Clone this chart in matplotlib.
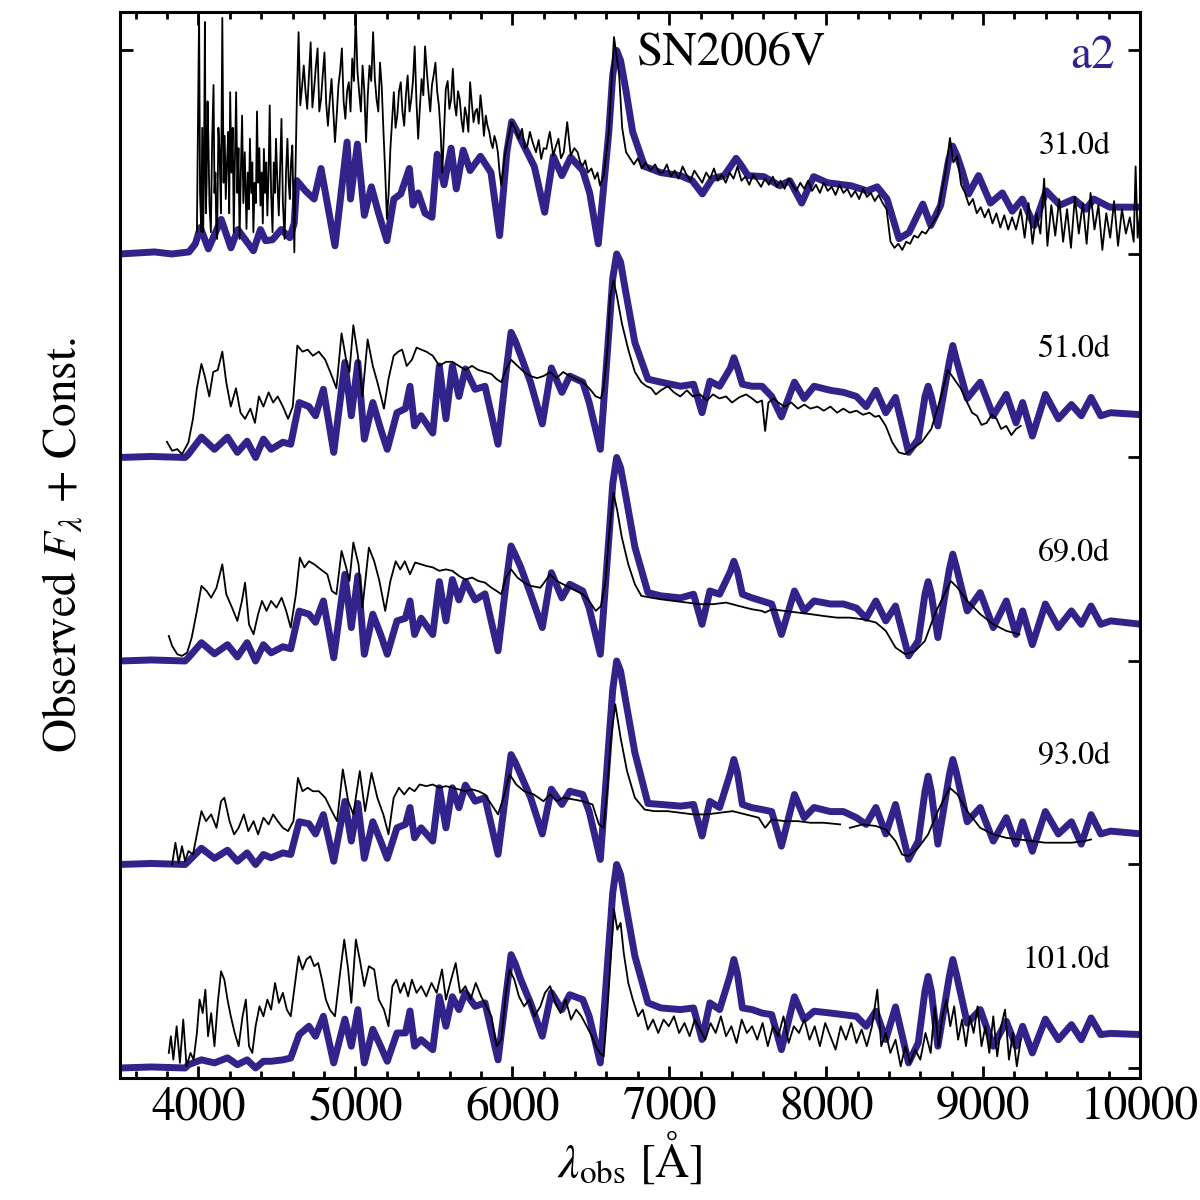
import numpy as np
import matplotlib
matplotlib.use("Agg")
import matplotlib.pyplot as plt
from matplotlib.ticker import MultipleLocator

# ---- data (wavelength in Angstrom, flux in units of the offset step) ----
epochs = ["31.0d", "51.0d", "69.0d", "93.0d", "101.0d"]
offsets = [4, 3, 2, 1, 0]

# model a2 at 31 d, (wavelength, flux)
model_31 = [(3500, 0.0), (3720, 0.01), (3830, 0.0), (3940, 0.01), (3980, 0.05),
            (4012, 0.13), (4063, 0.025), (4145, 0.17), (4207, 0.03), (4251, 0.12),
            (4350, 0.016), (4395, 0.12), (4428, 0.065), (4472, 0.07), (4527, 0.12),
            (4582, 0.08), (4610, 0.15), (4627, 0.36), (4682, 0.31), (4737, 0.27),
            (4781, 0.42), (4870, 0.04), (4947, 0.55), (4969, 0.27), (5013, 0.54),
            (5057, 0.19), (5102, 0.33), (5146, 0.205), (5201, 0.065), (5245, 0.27),
            (5289, 0.295), (5344, 0.42), (5367, 0.24), (5400, 0.30), (5444, 0.20),
            (5488, 0.18), (5521, 0.49), (5565, 0.34), (5610, 0.52), (5643, 0.32),
            (5687, 0.51), (5731, 0.41), (5797, 0.48), (5864, 0.40), (5919, 0.09),
            (5965, 0.50), (5996, 0.65), (6025, 0.61), (6062, 0.55), (6140, 0.43),
            (6206, 0.205), (6261, 0.48), (6316, 0.385), (6372, 0.475), (6449, 0.41),
            (6493, 0.30), (6548, 0.05), (6615, 0.60), (6640, 0.88), (6665, 1.0),
            (6690, 0.95), (6725, 0.80), (6767, 0.60), (6843, 0.43), (6945, 0.40),
            (7071, 0.385), (7147, 0.36), (7211, 0.295), (7274, 0.37), (7350, 0.385),
            (7400, 0.44), (7426, 0.47), (7455, 0.44), (7502, 0.385), (7603, 0.38),
            (7705, 0.335), (7768, 0.36), (7844, 0.25), (7920, 0.38), (8008, 0.35),
            (8160, 0.335), (8262, 0.31), (8325, 0.33), (8388, 0.27), (8464, 0.075),
            (8528, 0.105), (8616, 0.245), (8667, 0.14), (8730, 0.24), (8780, 0.46),
            (8806, 0.53), (8835, 0.48), (8870, 0.40), (8908, 0.295), (8971, 0.385),
            (9047, 0.25), (9123, 0.30), (9186, 0.21), (9250, 0.27), (9326, 0.14),
            (9402, 0.31), (9490, 0.24), (9579, 0.27), (9655, 0.22), (9706, 0.27),
            (9807, 0.23), (10010, 0.23)]

# model a2 at later epochs, shared wavelength grid
model_wave = [3500, 3700, 3915, 3936, 4019, 4102, 4185, 4248, 4310, 4364,
              4414, 4463, 4538, 4588, 4642, 4704, 4746, 4796, 4862, 4933,
              4974, 5016, 5057, 5111, 5161, 5203, 5265, 5319, 5348, 5377,
              5419, 5493, 5535, 5577, 5618, 5660, 5701, 5763, 5826, 5909,
              5960, 5992, 6020, 6054, 6116, 6191, 6249, 6316, 6366, 6449, 6490, 6561,
              6615, 6640, 6665, 6690, 6719, 6781, 6864, 6947, 7072, 7155,
              7209, 7259, 7321, 7390, 7412, 7435, 7466, 7528, 7591, 7653, 7715, 7798,
              7860, 7923, 8027, 8110, 8193, 8255, 8317, 8380, 8442, 8525,
              8587, 8630, 8650, 8670, 8712, 8785, 8807, 8830, 8899, 8982, 9065, 9148, 9210, 9252,
              9314, 9397, 9480, 9563, 9626, 9688, 9750, 9813, 10010]
model_flux_51 = [0.0, 0.005, 0.0, 0.016, 0.10, 0.04, 0.10, 0.025, 0.08, 0.0,
                 0.09, 0.04, 0.075, 0.065, 0.27, 0.25, 0.205, 0.335, 0.025, 0.467,
                 0.205, 0.467, 0.09, 0.27, 0.14, 0.04, 0.22, 0.24, 0.35, 0.155,
                 0.205, 0.12, 0.45, 0.19, 0.45, 0.30, 0.435, 0.335, 0.35, 0.065,
                 0.42, 0.615, 0.57, 0.50, 0.37, 0.165, 0.44, 0.32, 0.40, 0.37, 0.27, 0.04,
                 0.615, 0.88, 1.0, 0.96, 0.83, 0.565, 0.385, 0.37, 0.35, 0.36,
                 0.22, 0.375, 0.35, 0.44, 0.49, 0.44, 0.36, 0.35, 0.35, 0.30, 0.20, 0.37,
                 0.29, 0.35, 0.33, 0.32, 0.30, 0.25, 0.33, 0.22, 0.295, 0.025,
                 0.09, 0.30, 0.35, 0.30, 0.155, 0.47, 0.55, 0.48, 0.29, 0.37, 0.205, 0.31, 0.17, 0.27,
                 0.105, 0.31, 0.19, 0.26, 0.205, 0.295, 0.205, 0.22, 0.21]
model_flux_69 = [0.0, 0.005, 0.0, 0.016, 0.09, 0.035, 0.08, 0.02, 0.09, 0.0,
                 0.08, 0.04, 0.07, 0.06, 0.245, 0.23, 0.19, 0.295, 0.016, 0.426,
                 0.164, 0.418, 0.033, 0.23, 0.13, 0.033, 0.197, 0.21, 0.295, 0.13,
                 0.21, 0.13, 0.39, 0.197, 0.40, 0.30, 0.39, 0.30, 0.33, 0.05,
                 0.38, 0.565, 0.52, 0.46, 0.33, 0.164, 0.434, 0.31, 0.377, 0.344, 0.26, 0.033,
                 0.60, 0.87, 1.0, 0.95, 0.83, 0.56, 0.336, 0.32, 0.31, 0.328,
                 0.18, 0.344, 0.328, 0.44, 0.49, 0.44, 0.328, 0.31, 0.295, 0.28, 0.13, 0.344,
                 0.246, 0.295, 0.28, 0.28, 0.26, 0.21, 0.295, 0.197, 0.27, 0.025,
                 0.10, 0.33, 0.39, 0.33, 0.115, 0.45, 0.525, 0.46, 0.246, 0.336, 0.164, 0.295, 0.13, 0.246,
                 0.08, 0.28, 0.164, 0.246, 0.18, 0.27, 0.18, 0.197, 0.18]
model_flux_93 = [0.0, 0.005, 0.0, 0.016, 0.08, 0.03, 0.07, 0.016, 0.057, 0.0,
                 0.049, 0.033, 0.057, 0.049, 0.21, 0.20, 0.15, 0.245, 0.016, 0.31,
                 0.115, 0.30, 0.03, 0.21, 0.115, 0.03, 0.18, 0.197, 0.28, 0.131,
                 0.18, 0.115, 0.377, 0.18, 0.377, 0.279, 0.39, 0.311, 0.328, 0.05,
                 0.36, 0.54, 0.50, 0.44, 0.33, 0.15, 0.37, 0.295, 0.36, 0.344, 0.26, 0.025,
                 0.60, 0.86, 1.0, 0.95, 0.82, 0.55, 0.30, 0.295, 0.287, 0.295,
                 0.14, 0.31, 0.28, 0.45, 0.516, 0.45, 0.295, 0.279, 0.27, 0.26, 0.09, 0.344,
                 0.23, 0.28, 0.26, 0.26, 0.23, 0.197, 0.28, 0.15, 0.295, 0.025,
                 0.115, 0.36, 0.434, 0.36, 0.10, 0.44, 0.516, 0.45, 0.21, 0.28, 0.115, 0.23, 0.10, 0.21,
                 0.065, 0.26, 0.15, 0.21, 0.10, 0.245, 0.15, 0.164, 0.15]
model_flux_101 = [0.0, 0.005, 0.0, 0.016, 0.04, 0.025, 0.05, 0.016, 0.04, 0.0,
                  0.033, 0.033, 0.04, 0.049, 0.164, 0.205, 0.156, 0.254, 0.025, 0.24,
                  0.107, 0.287, 0.025, 0.19, 0.107, 0.033, 0.172, 0.172, 0.28, 0.107,
                  0.139, 0.09, 0.35, 0.205, 0.35, 0.287, 0.37, 0.303, 0.32, 0.04,
                  0.36, 0.557, 0.51, 0.434, 0.32, 0.156, 0.37, 0.287, 0.36, 0.336, 0.254, 0.025,
                  0.60, 0.86, 1.0, 0.95, 0.82, 0.55, 0.32, 0.295, 0.287, 0.295,
                  0.14, 0.32, 0.287, 0.46, 0.533, 0.46, 0.295, 0.287, 0.27, 0.262, 0.09, 0.35,
                  0.238, 0.279, 0.27, 0.262, 0.254, 0.205, 0.279, 0.14, 0.30, 0.025,
                  0.123, 0.38, 0.45, 0.38, 0.107, 0.45, 0.533, 0.46, 0.22, 0.287, 0.107, 0.229, 0.107, 0.205,
                  0.074, 0.24, 0.139, 0.213, 0.139, 0.246, 0.164, 0.17, 0.164]

# observed SN2006V, 31 d (wavelength, flux)
obs_31 = [(3990, 0.11), (4004, 1.19), (4010, 0.30), (4018, 0.11), (4024, 0.62),
          (4030, 0.107), (4036, 0.48), (4041, 1.14), (4047, 0.20), (4052, 0.35),
          (4058, 0.75), (4063, 0.566), (4070, 0.25), (4079, 0.107), (4087, 0.55),
          (4096, 0.83), (4102, 0.30), (4108, 0.40), (4113, 0.15), (4119, 0.074),
          (4127, 0.62), (4135, 0.50), (4143, 0.20), (4152, 1.16), (4160, 0.35),
          (4167, 0.58), (4174, 0.27), (4182, 0.45), (4190, 0.60), (4196, 0.20),
          (4202, 0.795), (4210, 0.40), (4218, 0.62), (4225, 0.107), (4232, 0.45),
          (4240, 0.795), (4248, 0.30), (4255, 0.52), (4262, 0.074), (4270, 0.40),
          (4278, 0.68), (4286, 0.25), (4295, 0.50), (4306, 0.123), (4314, 0.40),
          (4321, 0.22), (4328, 0.566), (4336, 0.30), (4343, 0.45), (4350, 0.107),
          (4358, 0.35), (4366, 0.25), (4373, 0.70), (4380, 0.35), (4388, 0.52),
          (4395, 0.238), (4403, 0.40), (4410, 0.15), (4417, 0.516), (4425, 0.30),
          (4432, 0.45), (4439, 0.189), (4447, 0.40), (4454, 0.73), (4463, 0.30),
          (4472, 0.107), (4480, 0.45), (4487, 0.30), (4494, 0.566), (4503, 0.35),
          (4512, 0.189), (4520, 0.42), (4529, 0.664), (4538, 0.25), (4549, 0.074),
          (4558, 0.40), (4567, 0.566), (4575, 0.35), (4582, 0.27), (4590, 0.45),
          (4598, 0.533), (4605, 0.25), (4611, 0.008), (4618, 0.40), (4627, 0.76),
          (4638, 1.09), (4649, 0.73), (4660, 0.82), (4671, 0.926), (4682, 0.80),
          (4693, 0.713), (4704, 0.88), (4715, 1.04), (4726, 0.72), (4737, 0.81),
          (4748, 0.92), (4759, 1.01), (4770, 0.70), (4781, 0.76), (4792, 0.88),
          (4803, 0.99), (4814, 0.74), (4825, 0.63), (4836, 0.75), (4848, 0.86),
          (4859, 0.70), (4870, 0.55), (4881, 0.68), (4892, 0.83), (4903, 0.90),
          (4914, 1.01), (4925, 0.75), (4936, 0.664), (4947, 0.80), (4958, 0.844),
          (4969, 0.70), (4980, 0.96), (4991, 0.85), (5002, 1.17), (5013, 0.90),
          (5024, 0.795), (5035, 0.70), (5046, 0.926), (5057, 0.80), (5068, 0.55),
          (5079, 0.78), (5090, 0.926), (5101, 0.85), (5113, 1.09), (5124, 0.86),
          (5135, 0.76), (5146, 0.70), (5157, 0.94), (5168, 0.82), (5179, 0.60),
          (5190, 0.40), (5201, 0.172), (5212, 0.30), (5223, 0.516), (5234, 0.66),
          (5245, 0.795), (5256, 0.62), (5267, 0.68), (5278, 0.80), (5289, 0.844),
          (5300, 0.70), (5311, 0.63), (5322, 0.78), (5333, 0.877), (5345, 0.70),
          (5356, 0.76), (5367, 0.85), (5378, 1.02), (5389, 0.75), (5400, 0.566),
          (5411, 0.72), (5422, 0.86), (5433, 0.78), (5444, 1.02), (5455, 0.90),
          (5466, 0.795), (5477, 0.70), (5488, 0.83), (5499, 0.88), (5510, 0.94),
          (5521, 0.80), (5532, 0.73), (5543, 0.60), (5554, 0.40), (5565, 0.60),
          (5576, 0.81), (5588, 0.85), (5599, 0.713), (5610, 0.76), (5621, 0.91),
          (5632, 0.74), (5643, 0.68), (5654, 0.80), (5665, 0.76), (5676, 0.66),
          (5687, 0.60), (5698, 0.72), (5709, 0.68), (5720, 0.60), (5731, 0.844),
          (5742, 0.74), (5753, 0.648), (5764, 0.70), (5775, 0.713), (5786, 0.64),
          (5797, 0.78), (5808, 0.70), (5819, 0.58), (5831, 0.68), (5842, 0.63),
          (5853, 0.60), (5864, 0.55), (5875, 0.52), (5886, 0.58), (5897, 0.55),
          (5908, 0.50), (5919, 0.40), (5930, 0.336), (5952, 0.484), (5974, 0.566),
          (5996, 0.648), (6018, 0.615), (6040, 0.566), (6062, 0.615), (6080, 0.52),
          (6096, 0.533), (6112, 0.60), (6129, 0.55), (6151, 0.50), (6168, 0.56),
          (6184, 0.467), (6200, 0.52), (6217, 0.516), (6239, 0.60), (6261, 0.484),
          (6278, 0.53), (6294, 0.566), (6310, 0.47), (6328, 0.50), (6350, 0.648),
          (6372, 0.484), (6395, 0.52), (6416, 0.50), (6433, 0.45), (6449, 0.434),
          (6465, 0.46), (6482, 0.40), (6504, 0.42), (6526, 0.369), (6543, 0.40),
          (6559, 0.336), (6582, 0.385), (6615, 0.60), (6648, 1.066), (6681, 0.877),
          (6700, 0.62), (6725, 0.50), (6750, 0.47), (6775, 0.44), (6800, 0.47),
          (6825, 0.42), (6850, 0.45), (6880, 0.41), (6910, 0.44), (6935, 0.40),
          (6960, 0.40), (6985, 0.44), (7010, 0.38), (7035, 0.41), (7060, 0.37),
          (7085, 0.43), (7110, 0.39), (7135, 0.36), (7160, 0.41), (7185, 0.38),
          (7210, 0.35), (7235, 0.40), (7260, 0.37), (7285, 0.42), (7310, 0.36),
          (7335, 0.39), (7360, 0.35), (7385, 0.40), (7410, 0.37), (7435, 0.43),
          (7460, 0.36), (7485, 0.38), (7510, 0.34), (7535, 0.39), (7560, 0.36),
          (7585, 0.33), (7610, 0.37), (7635, 0.34), (7660, 0.38), (7685, 0.33),
          (7710, 0.36), (7735, 0.32), (7760, 0.37), (7785, 0.34), (7810, 0.31),
          (7835, 0.35), (7860, 0.32), (7885, 0.36), (7910, 0.31), (7935, 0.34),
          (7960, 0.30), (7985, 0.35), (8010, 0.31), (8035, 0.33), (8060, 0.29),
          (8085, 0.34), (8110, 0.30), (8135, 0.32), (8160, 0.28), (8185, 0.31),
          (8210, 0.27), (8235, 0.32), (8260, 0.28), (8285, 0.30), (8310, 0.26),
          (8335, 0.29), (8360, 0.25), (8385, 0.22), (8410, 0.06), (8435, 0.03),
          (8460, 0.05), (8485, 0.02), (8510, 0.06), (8535, 0.05), (8560, 0.09),
          (8585, 0.08), (8610, 0.11), (8635, 0.10), (8660, 0.13), (8685, 0.16),
          (8710, 0.19), (8735, 0.30), (8760, 0.40), (8789, 0.57), (8810, 0.45),
          (8835, 0.48), (8860, 0.34), (8885, 0.30), (8910, 0.24), (8935, 0.27),
          (8960, 0.20), (8985, 0.23), (9010, 0.18), (9035, 0.22), (9060, 0.15),
          (9085, 0.20), (9110, 0.13), (9135, 0.19), (9160, 0.12), (9185, 0.18),
          (9210, 0.12), (9240, 0.22), (9265, 0.08), (9290, 0.25), (9315, 0.05),
          (9340, 0.20), (9365, 0.10), (9389, 0.37), (9410, 0.04), (9435, 0.24),
          (9460, 0.09), (9485, 0.27), (9510, 0.06), (9535, 0.22), (9560, 0.03),
          (9585, 0.28), (9610, 0.10), (9635, 0.25), (9660, 0.05), (9685, 0.30),
          (9710, 0.12), (9735, 0.24), (9760, 0.02), (9785, 0.20), (9810, 0.08),
          (9835, 0.26), (9860, 0.04), (9885, 0.22), (9910, 0.10), (9935, 0.18),
          (9960, 0.06), (9972, 0.43), (9985, 0.08), (10000, 0.20)]

obs_wave_51 = [3799, 3832, 3865, 3895, 3915, 3936, 3965, 3990, 4019, 4040,
               4069, 4094, 4123, 4152, 4177, 4206, 4239, 4268, 4297, 4331,
               4360, 4385, 4414, 4447, 4476, 4505, 4538, 4571, 4601, 4630,
               4663, 4696, 4729, 4767, 4808, 4850, 4879, 4912, 4941, 4962,
               4987, 5016, 5045, 5078, 5111, 5140, 5182, 5211, 5244, 5273,
               5298, 5327, 5360, 5390, 5419, 5452, 5493, 5535, 5577, 5618,
               5660, 5701, 5743, 5784, 5826, 5867, 5900, 5930, 5959, 5992,
               6033, 6075, 6116, 6158, 6199, 6241, 6283, 6324, 6366, 6407,
               6449, 6490, 6532, 6565, 6582, 6606, 6623, 6644, 6665, 6698,
               6739, 6781, 6822, 6855, 6885, 6915, 6947, 6990, 7030, 7070,
               7113, 7150, 7196, 7240, 7279, 7320, 7362, 7400, 7445, 7490,
               7528, 7560, 7591, 7611, 7632, 7665, 7695, 7735, 7778, 7820,
               7861, 7900, 7944, 7985, 8027, 8070, 8110, 8150, 8193, 8235,
               8276, 8310, 8338, 8380, 8421, 8463, 8504, 8546, 8608, 8670,
               8733, 8775, 8816, 8857, 8899, 8930, 8961, 8990, 9023, 9055,
               9086, 9115, 9148, 9180, 9210, 9240]
obs_flux_51 = [0.077, 0.033, 0.041, 0.016, 0.044, 0.074, 0.19, 0.34, 0.46, 0.40,
               0.30, 0.42, 0.43, 0.52, 0.37, 0.25, 0.34, 0.22, 0.19, 0.24,
               0.17, 0.30, 0.25, 0.32, 0.27, 0.30, 0.25, 0.19, 0.25, 0.55,
               0.52, 0.53, 0.50, 0.52, 0.48, 0.40, 0.34, 0.61, 0.48, 0.42,
               0.65, 0.50, 0.30, 0.58, 0.45, 0.37, 0.24, 0.385, 0.50, 0.52,
               0.53, 0.45, 0.48, 0.54, 0.53, 0.52, 0.50, 0.45, 0.47, 0.47,
               0.45, 0.43, 0.45, 0.43, 0.42, 0.41, 0.385, 0.37, 0.43, 0.48,
               0.45, 0.42, 0.40, 0.39, 0.40, 0.42, 0.39, 0.42, 0.40, 0.385,
               0.37, 0.34, 0.30, 0.29, 0.34, 0.53, 0.78, 0.87, 0.80, 0.66,
               0.53, 0.42, 0.37, 0.35, 0.34, 0.31, 0.33, 0.35, 0.32, 0.30,
               0.33, 0.30, 0.31, 0.28, 0.31, 0.29, 0.30, 0.27, 0.295, 0.31,
               0.29, 0.27, 0.28, 0.13, 0.27, 0.29, 0.27, 0.25, 0.27, 0.24,
               0.26, 0.24, 0.25, 0.23, 0.25, 0.22, 0.24, 0.22, 0.23, 0.21,
               0.22, 0.20, 0.205, 0.155, 0.075, 0.025, 0.016, 0.04, 0.075, 0.14,
               0.30, 0.43, 0.385, 0.34, 0.27, 0.22, 0.205, 0.16, 0.17, 0.21,
               0.19, 0.14, 0.155, 0.11, 0.14, 0.155]

obs_wave_69 = [3811, 3832, 3865, 3895, 3928, 3957, 3990, 4019, 4052, 4081,
               4115, 4152, 4177, 4214, 4248, 4277, 4297, 4322, 4351, 4380,
               4405, 4434, 4463, 4497, 4530, 4559, 4588, 4621, 4646, 4675,
               4704, 4738, 4779, 4821, 4850, 4879, 4912, 4941, 4962, 4987,
               5020, 5045, 5086, 5120, 5153, 5190, 5223, 5257, 5286, 5315,
               5348, 5381, 5419, 5452, 5493, 5535, 5577, 5618, 5660, 5701,
               5743, 5784, 5826, 5867, 5900, 5930, 5959, 5992, 6033, 6075,
               6116, 6179, 6241, 6283, 6324, 6366, 6407, 6449, 6490, 6532,
               6565, 6594, 6615, 6644, 6669, 6698, 6739, 6781, 6822, 6885,
               6947, 7030, 7113, 7196, 7279, 7362, 7445, 7528, 7591, 7611,
               7653, 7736, 7819, 7902, 7985, 8068, 8151, 8234, 8317, 8380,
               8442, 8504, 8567, 8629, 8692, 8754, 8795, 8837, 8899, 8982,
               9065, 9148, 9231]
obs_flux_69 = [0.123, 0.074, 0.033, 0.025, 0.041, 0.115, 0.246, 0.369, 0.344, 0.311,
               0.36, 0.475, 0.328, 0.262, 0.197, 0.295, 0.385, 0.18, 0.131, 0.23,
               0.295, 0.246, 0.295, 0.262, 0.311, 0.246, 0.164, 0.328, 0.508, 0.46,
               0.49, 0.475, 0.45, 0.426, 0.344, 0.328, 0.541, 0.46, 0.393, 0.582,
               0.475, 0.262, 0.557, 0.49, 0.393, 0.246, 0.393, 0.49, 0.45, 0.49,
               0.426, 0.484, 0.475, 0.467, 0.46, 0.443, 0.45, 0.443, 0.418, 0.40,
               0.41, 0.393, 0.385, 0.36, 0.344, 0.328, 0.41, 0.45, 0.41, 0.385,
               0.369, 0.36, 0.426, 0.393, 0.377, 0.36, 0.344, 0.328, 0.295, 0.246,
               0.27, 0.393, 0.607, 0.828, 0.738, 0.607, 0.475, 0.377, 0.32, 0.311,
               0.303, 0.295, 0.287, 0.279, 0.279, 0.287, 0.27, 0.254, 0.246, 0.238,
               0.254, 0.246, 0.238, 0.23, 0.221, 0.213, 0.213, 0.205, 0.189, 0.148,
               0.066, 0.033, 0.049, 0.098, 0.23, 0.328, 0.393, 0.36, 0.295, 0.23,
               0.18, 0.148, 0.131]

obs_wave_93 = [3832, 3853, 3874, 3895, 3915, 3936, 3965, 3990, 4019, 4048,
               4081, 4115, 4144, 4165, 4198, 4227, 4256, 4289, 4318, 4351,
               4380, 4414, 4447, 4476, 4505, 4538, 4571, 4605, 4634, 4663,
               4696, 4729, 4767, 4808, 4850, 4883, 4920, 4954, 4987, 5028,
               5062, 5103, 5140, 5178, 5211, 5244, 5278, 5311, 5344, 5377,
               5410, 5452, 5493, 5535, 5577, 5618, 5660, 5701, 5743, 5784,
               5826, 5867, 5909, 5950, 5983, 6025, 6075, 6137, 6199, 6241,
               6283, 6324, 6386, 6449, 6511, 6552, 6582, 6606, 6627, 6656,
               6690, 6731, 6781, 6843, 6905, 6989, 7072, 7155, 7238, 7321,
               7404, 7487, 7570, 7611, 7653, 7736, 7819, 7902, 7985, 8089,
               8120, 8151, 8234, 8317, 8380, 8442, 8484, 8525, 8587, 8650,
               8712, 8787, 8837, 8899, 8982, 9065, 9148, 9231, 9314, 9397,
               9480, 9563, 9647, 9688]
obs_flux_93 = [0.0, 0.107, 0.008, 0.09, 0.016, 0.066, 0.049, 0.148, 0.262, 0.213,
               0.246, 0.18, 0.311, 0.328, 0.213, 0.148, 0.18, 0.246, 0.164, 0.213,
               0.148, 0.23, 0.197, 0.246, 0.213, 0.18, 0.164, 0.213, 0.426, 0.36,
               0.377, 0.36, 0.36, 0.328, 0.262, 0.213, 0.467, 0.311, 0.246, 0.459,
               0.262, 0.45, 0.328, 0.246, 0.148, 0.328, 0.377, 0.344, 0.377, 0.36,
               0.393, 0.385, 0.393, 0.377, 0.385, 0.377, 0.369, 0.36, 0.369, 0.36,
               0.344, 0.295, 0.246, 0.344, 0.443, 0.393, 0.36, 0.344, 0.311, 0.344,
               0.311, 0.328, 0.32, 0.311, 0.295, 0.197, 0.18, 0.377, 0.607, 0.787,
               0.623, 0.459, 0.328, 0.27, 0.262, 0.262, 0.254, 0.246, 0.246, 0.254,
               0.262, 0.246, 0.23, 0.18, 0.221, 0.213, 0.213, 0.205, 0.205, 0.197,
               np.nan, 0.18, 0.197, 0.189, 0.172, 0.115, 0.049, 0.041, 0.082, 0.148,
               0.262, 0.377, 0.344, 0.262, 0.18, 0.148, 0.131, 0.123, 0.115, 0.107,
               0.107, 0.107, 0.115, 0.123]

obs_wave_101 = [3811, 3824, 3840, 3861, 3882, 3903, 3924, 3949, 3969, 3990,
                4007, 4027, 4044, 4061, 4081, 4102, 4123, 4144, 4165, 4185,
                4206, 4231, 4256, 4281, 4302, 4322, 4343, 4364, 4389, 4414,
                4439, 4463, 4488, 4513, 4538, 4563, 4588, 4613, 4638, 4663,
                4688, 4713, 4738, 4763, 4787, 4812, 4837, 4870, 4900, 4929,
                4954, 4974, 5003, 5028, 5057, 5086, 5120, 5149, 5182, 5211,
                5236, 5261, 5286, 5311, 5336, 5360, 5390, 5419, 5452, 5485,
                5518, 5552, 5577, 5610, 5639, 5668, 5701, 5734, 5767, 5801,
                5834, 5867, 5900, 5930, 5959, 5983, 6013, 6042, 6075, 6108,
                6141, 6179, 6208, 6241, 6274, 6307, 6340, 6374, 6407, 6440,
                6474, 6507, 6532, 6557, 6582, 6606, 6627, 6648, 6669, 6690,
                6710, 6739, 6768, 6802, 6831, 6864, 6897, 6930, 6964, 6997,
                7030, 7063, 7097, 7130, 7163, 7196, 7230, 7263, 7296, 7329,
                7362, 7396, 7429, 7462, 7495, 7528, 7561, 7595, 7628, 7661,
                7695, 7728, 7761, 7794, 7827, 7861, 7894, 7927, 7960, 7994,
                8027, 8060, 8093, 8126, 8160, 8193, 8226, 8259, 8292, 8326,
                8351, 8380, 8409, 8442, 8475, 8504, 8534, 8567, 8600, 8633,
                8666, 8692, 8716, 8741, 8766, 8791, 8816, 8841, 8866, 8891,
                8916, 8940, 8965, 8990, 9015, 9040, 9065, 9090, 9115, 9140,
                9165, 9190, 9215, 9240]
obs_flux_101 = [0.074, 0.156, 0.041, 0.205, 0.025, 0.238, 0.008, 0.074, 0.041, 0.172,
                0.336, 0.27, 0.385, 0.156, 0.27, 0.107, 0.32, 0.475, 0.434, 0.336,
                0.254, 0.172, 0.107, 0.254, 0.336, 0.107, 0.074, 0.205, 0.303, 0.254,
                0.336, 0.287, 0.418, 0.32, 0.369, 0.287, 0.254, 0.40, 0.549, 0.484,
                0.533, 0.549, 0.50, 0.516, 0.434, 0.336, 0.287, 0.254, 0.451, 0.631,
                0.484, 0.32, 0.631, 0.533, 0.402, 0.50, 0.484, 0.336, 0.287, 0.205,
                0.402, 0.434, 0.369, 0.418, 0.352, 0.434, 0.369, 0.402, 0.352, 0.418,
                0.369, 0.484, 0.336, 0.434, 0.516, 0.369, 0.402, 0.336, 0.418, 0.352,
                0.303, 0.254, 0.107, 0.139, 0.369, 0.484, 0.434, 0.352, 0.303, 0.336,
                0.254, 0.303, 0.369, 0.402, 0.32, 0.27, 0.336, 0.238, 0.287, 0.254,
                0.205, 0.156, 0.107, 0.074, 0.057, 0.287, 0.533, 0.779, 0.68, 0.713,
                0.566, 0.418, 0.336, 0.254, 0.287, 0.189, 0.238, 0.172, 0.238, 0.205,
                0.254, 0.172, 0.221, 0.156, 0.238, 0.189, 0.139, 0.221, 0.172, 0.254,
                0.156, 0.205, 0.123, 0.238, 0.172, 0.205, 0.139, 0.221, 0.107, 0.205,
                0.156, 0.254, 0.123, 0.205, 0.172, 0.238, 0.139, 0.205, 0.107, 0.221,
                0.156, 0.090, 0.205, 0.139, 0.221, 0.123, 0.189, 0.107, 0.205, 0.385,
                0.107, 0.172, 0.074, 0.139, 0.008, 0.107, 0.025, 0.09, 0.041, 0.172,
                0.074, 0.303, 0.107, 0.254, 0.336, 0.205, 0.303, 0.139, 0.238, 0.107,
                0.254, 0.172, 0.303, 0.107, 0.205, 0.074, 0.254, 0.057, 0.205, 0.287,
                0.041, 0.172, 0.008, 0.139]

model_wave_31, model_flux_31 = map(list, zip(*model_31))
obs_wave_31, obs_flux_31 = map(list, zip(*obs_31))

model_waves = [model_wave_31, model_wave, model_wave, model_wave, model_wave]
model_fluxes = [model_flux_31, model_flux_51, model_flux_69, model_flux_93, model_flux_101]
obs_waves = [obs_wave_31, obs_wave_51, obs_wave_69, obs_wave_93, obs_wave_101]
obs_fluxes = [obs_flux_31, obs_flux_51, obs_flux_69, obs_flux_93, obs_flux_101]

model_color = '#31238a'

plt.rcParams['font.family'] = 'STIXGeneral'
plt.rcParams['mathtext.fontset'] = 'stix'

fig = plt.figure(figsize=(12, 12), dpi=100)
ax = fig.add_axes([0.1, 0.1017, 0.85, 0.8883])

for mw, mf, ow, of, off in zip(model_waves, model_fluxes, obs_waves, obs_fluxes, offsets):
    ax.plot(mw, np.array(mf) + off, color=model_color, lw=5, solid_joinstyle='round',
            solid_capstyle='round', zorder=2)
    ax.plot(ow, np.array(of) + off, color='black', lw=1.3, zorder=3)

# epoch labels
for lab, off in zip(epochs, offsets):
    ax.text(9810, off + 0.53, lab, ha='right', va='center', fontsize=23)

ax.text(7400, 4.93, 'SN2006V', ha='center', va='baseline', fontsize=34)
ax.text(9840, 4.915, 'a2', ha='right', va='baseline', fontsize=34, color=model_color)

ax.set_xlim(3500, 10000)
ax.set_ylim(-0.049, 5.189)
ax.xaxis.set_major_locator(MultipleLocator(1000))
ax.xaxis.set_minor_locator(MultipleLocator(200))
ax.set_yticks([0, 1, 2, 3, 4, 5])
ax.set_yticklabels([])
ax.tick_params(which='both', direction='in', top=True, right=True, width=2)
ax.tick_params(which='major', length=9, labelsize=34, pad=6)
ax.tick_params(which='minor', length=5)
for sp in ax.spines.values():
    sp.set_linewidth(2.2)

ax.set_xlabel(r'$\lambda_{\rm obs}$ [Å]', fontsize=34, labelpad=0)
ax.set_ylabel(r'Observed $F_\lambda$ + Const.', fontsize=34, labelpad=18)

fig.savefig('out.png', dpi=100)
